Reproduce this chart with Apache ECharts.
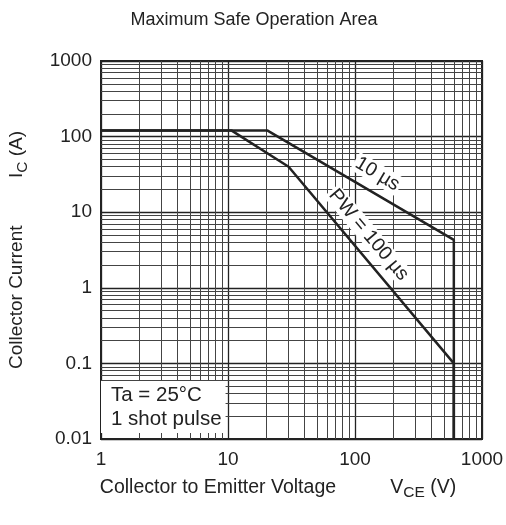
<!DOCTYPE html>
<html><head><meta charset="utf-8">
<script src="https://cdn.jsdelivr.net/npm/echarts@6/dist/echarts.min.js"></script>
<style>html,body{margin:0;padding:0;background:#fff}#c{width:506px;height:525px}</style>
</head><body><div id="c"></div>
<script>
// Data
const pw10us = [[1,120],[20.5,120],[600,4.3],[600,0.01]];
const pw100us = [[1,120],[10.7,120],[30,40],[600,0.1],[600,0.01]];
const xTicks = [1,10,100,1000];
const yTicks = [0.01,0.1,1,10,100,1000];
const minorMult = [2,3,4,5,6,7,8,9];
const xDecades = [1,10,100];
const yDecades = [0.01,0.1,1,10,100];
const label10 = [[150,32]];
const label100 = [[128,5.0]];
const noteAnchor = [[1,0.0265]];

const FONT = 'Liberation Sans, Arial, sans-serif';
const ink = '#222';

const minorLines = [];
xDecades.forEach(d => minorMult.forEach(m => minorLines.push({xAxis: +(d*m).toPrecision(6)})));
yDecades.forEach(d => minorMult.forEach(m => minorLines.push({yAxis: +(d*m).toPrecision(6)})));

const fmt = v => String(+(+v).toPrecision(6));
const annLabel = {fontFamily:FONT, fontSize:19.5, color:ink, opacity:1, backgroundColor:'#fff'};
const nameRich = (fs) => ({n:{fontFamily:FONT, fontSize:fs, color:ink, lineHeight:24}, s:{fontFamily:FONT, fontSize:15.5, color:ink, lineHeight:24, padding:[11,0,0,0]}});

const chart = echarts.init(document.getElementById('c'), null, {renderer:'canvas'});
chart.setOption({
  animation:false,
  backgroundColor:'#fff',
  textStyle:{fontFamily:FONT, color:ink},
  title:{text:'Maximum Safe Operation Area', left:249, textAlign:'center', top:6,
    textStyle:{fontFamily:FONT, fontSize:18, fontWeight:'normal', color:ink}},
  grid:{left:101, right:24, top:61, bottom:86, containLabel:false, outerBoundsMode:'none',
    show:true, borderColor:ink, borderWidth:2, backgroundColor:'transparent'},
  xAxis:{type:'log', logBase:10, min:xTicks[0], max:xTicks[xTicks.length-1],
    axisLine:{show:true, lineStyle:{color:ink, width:2}}, axisTick:{show:false},
    splitLine:{show:true, lineStyle:{color:ink, width:1.3}},
    axisLabel:{fontFamily:FONT, fontSize:19, color:ink, margin:11, formatter:fmt},
    name:'{n|Collector to Emitter Voltage          V}{s|CE}{n| (V)}', nameLocation:'middle', nameGap:31,
    nameTextStyle:{padding:[0,27,0,0], rich:nameRich(19.5)}
  },
  yAxis:{type:'log', logBase:10, min:yTicks[0], max:yTicks[yTicks.length-1],
    axisLine:{show:true, lineStyle:{color:ink, width:2}}, axisTick:{show:false},
    splitLine:{show:true, lineStyle:{color:ink, width:1.3}},
    axisLabel:{fontFamily:FONT, fontSize:19, color:ink, margin:9, formatter:fmt},
    name:'{n|Collector Current         I}{s|C}{n| (A)}', nameLocation:'middle', nameGap:72,
    nameTextStyle:{rich:nameRich(19)}
  },
  series:[
    {type:'line', data:[], silent:true,
      markLine:{silent:true, symbol:['none','none'], label:{show:false},
        lineStyle:{color:'#444', width:1, type:'solid'}, data:minorLines}},
    {type:'line', data:pw10us, symbol:'none', lineStyle:{color:ink, width:2.5}, z:5},
    {type:'line', data:pw100us, symbol:'none', lineStyle:{color:ink, width:2.5}, z:5},
    {type:'scatter', data:label10, symbolSize:0, z:6, itemStyle:{opacity:1},
      label:Object.assign({show:true, position:'inside', formatter:'10 µs', rotate:-31, padding:[0,2]}, annLabel)},
    {type:'scatter', data:label100, symbolSize:0, z:6, itemStyle:{opacity:1},
      label:Object.assign({show:true, position:'inside', formatter:'PW = 100 µs', rotate:-50, padding:[0,2]}, annLabel)},
    {type:'scatter', data:noteAnchor, symbolSize:0, z:6, itemStyle:{opacity:1},
      label:Object.assign({show:true, position:'right', distance:0, formatter:'Ta = 25°C\n1 shot pulse',
        lineHeight:24, align:'left', padding:[2,4,2,10]}, annLabel, {fontSize:20.5})}
  ]
});
</script></body></html>
